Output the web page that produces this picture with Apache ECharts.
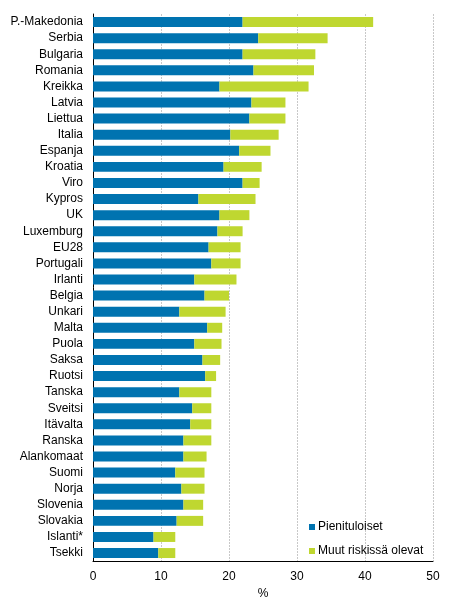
<!DOCTYPE html>
<html>
<head>
<meta charset="utf-8">
<script src="https://cdn.jsdelivr.net/npm/echarts@6/dist/echarts.min.js"></script>
<style>
html, body { margin: 0; padding: 0; background: #fff; }
#chart { width: 454px; height: 605px; }
</style>
</head>
<body>
<div id="chart"></div>
<script>
// maat ylhäältä alas
var countries = ['P.-Makedonia', 'Serbia', 'Bulgaria', 'Romania', 'Kreikka', 'Latvia', 'Liettua', 'Italia',
	'Espanja', 'Kroatia', 'Viro', 'Kypros', 'UK', 'Luxemburg', 'EU28', 'Portugali', 'Irlanti', 'Belgia',
	'Unkari', 'Malta', 'Puola', 'Saksa', 'Ruotsi', 'Tanska', 'Sveitsi', 'Itävalta', 'Ranska', 'Alankomaat',
	'Suomi', 'Norja', 'Slovenia', 'Slovakia', 'Islanti*', 'Tsekki'];
var lowIncome = [22.0, 24.3, 22.0, 23.6, 18.6, 23.3, 23.0, 20.2,
	21.5, 19.2, 22.0, 15.5, 18.6, 18.3, 17.0, 17.4, 14.9, 16.4,
	12.7, 16.8, 14.9, 16.1, 16.5, 12.7, 14.6, 14.3, 13.3, 13.3,
	12.1, 13.0, 13.3, 12.3, 8.9, 9.6];
var otherRisk = [19.2, 10.2, 10.7, 8.9, 13.1, 5.0, 5.3, 7.1,
	4.6, 5.6, 2.5, 8.4, 4.4, 3.7, 4.7, 4.3, 6.2, 3.6,
	6.8, 2.2, 4.0, 2.6, 1.6, 4.7, 2.8, 3.1, 4.1, 3.4,
	4.3, 3.4, 2.9, 3.9, 3.2, 2.5];
var seriesNames = ['Pienituloiset', 'Muut riskissä olevat'];

var font = 'Liberation Sans, Arial, sans-serif';
var myChart = echarts.init(document.getElementById('chart'));
var option = {
	animation : false,
	textStyle : { fontFamily : font },
	grid : {
		left : 93,
		right : 21,
		top : 14,
		bottom : 37
	},
	legend : {
		orient : 'vertical',
		left : 304,
		top : 516,
		itemWidth : 6,
		itemHeight : 6,
		itemGap : 12,
		icon : 'rect',
		textStyle : { fontFamily : font, fontSize : 12, color : '#000', padding : [0, 0, 0, -2] },
		data : seriesNames
	},
	xAxis : {
		type : 'value',
		min : 0,
		max : 50,
		interval : 10,
		name : '%',
		nameLocation : 'middle',
		nameGap : 22,
		nameTextStyle : { fontFamily : font, fontSize : 12, color : '#000' },
		axisLine : { show : true, lineStyle : { color : '#000', width : 1 } },
		axisTick : { show : false },
		axisLabel : { color : '#000', fontSize : 12, fontFamily : font, margin : 10 },
		splitLine : { show : true, lineStyle : { color : '#c8c8c8', type : [2, 1] } }
	},
	yAxis : {
		type : 'category',
		inverse : true,
		data : countries,
		axisLine : { show : true, lineStyle : { color : '#000', width : 1 } },
		axisTick : { show : false },
		axisLabel : { color : '#000', fontSize : 12, fontFamily : font, margin : 10 }
	},
	series : [ {
		name : seriesNames[0],
		type : 'bar',
		stack : 'total',
		barWidth : '62%',
		itemStyle : { color : '#0073b0' },
		data : lowIncome
	}, {
		name : seriesNames[1],
		type : 'bar',
		stack : 'total',
		barWidth : '62%',
		itemStyle : { color : '#bfd730' },
		data : otherRisk
	} ]
};
myChart.setOption(option);
</script>
</body>
</html>
